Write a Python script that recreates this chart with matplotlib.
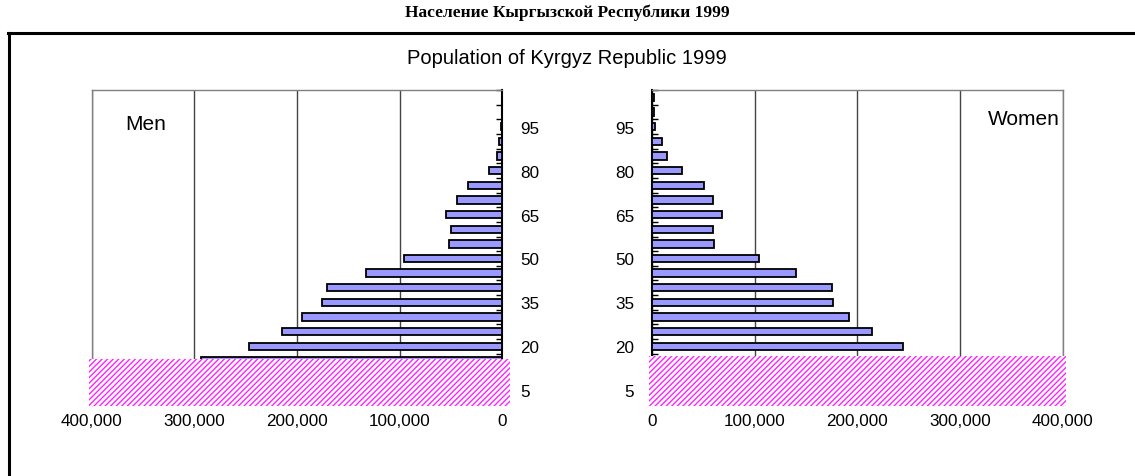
import matplotlib
matplotlib.use("Agg")
import matplotlib.pyplot as plt
from matplotlib.patches import Rectangle
from matplotlib.lines import Line2D
import numpy as np

# ---------------- data ----------------
age_groups = [0, 5, 10, 15, 20, 25, 30, 35, 40, 45, 50, 55, 60, 65, 70, 75, 80, 85, 90, 95, 100, 105]
men = [265000, 300000, 305000, 294000, 247000, 215000, 195000, 176000, 171000, 133000,
       96000, 52000, 50000, 55000, 44000, 33000, 13000, 5200, 2600, 800, 400, 200]
women = [255000, 290000, 300000, 290000, 244600, 214000, 192000, 176500, 175000, 140000,
         104700, 60500, 59000, 68600, 59000, 51000, 29000, 14600, 10000, 3000, 1500, 1500]
age_labels = [5, 20, 35, 50, 65, 80, 95]
x_ticks = [0, 100000, 200000, 300000, 400000]
title_ru = "Население Кыргызской Республики 1999"
title_en = "Population of Kyrgyz Republic 1999"

plt.rcParams['font.family'] = ['Liberation Sans', 'DejaVu Sans']
plt.rcParams['hatch.linewidth'] = 1.0

W, H = 1135, 477
fig = plt.figure(figsize=(W / 100, H / 100), dpi=100)

def fx(px):
    return px / W

def fy(py):
    return 1 - py / H

top_px, bot_px = 91, 406
axL = fig.add_axes([fx(92), fy(bot_px), fx(502) - fx(92), (bot_px - top_px) / H])
axR = fig.add_axes([fx(652), fy(bot_px), fx(1062.5) - fx(652), (bot_px - top_px) / H])

ypos = np.arange(len(age_groups))
bar_color = '#9999ff'

for ax, vals in ((axL, men), (axR, women)):
    ax.barh(ypos, vals, height=0.5, color=bar_color, edgecolor='black', linewidth=1.3, zorder=3)
    ax.set_xticks(x_ticks)
    ax.set_xticklabels([f"{v:,}" for v in x_ticks], fontsize=12.3)
    ax.tick_params(axis='x', length=0, pad=6)
    ax.grid(axis='x', color='#444444', linewidth=1, zorder=1)
    ax.set_axisbelow(True)
    lab_pos = [age_groups.index(a) for a in age_labels]
    ax.set_yticks(lab_pos)
    ax.set_yticklabels([str(a) for a in age_labels], fontsize=12.3)
    ax.set_yticks(np.arange(0.5, len(age_groups), 1.0), minor=True)
    ax.tick_params(axis='y', which='major', length=0, pad=13)
    ax.tick_params(axis='y', which='minor', length=4, width=1, direction='in', color='black')
    ax.set_ylim(0, len(age_groups) - 0.5)
    ax.set_xlim(0, 400000)
    ax.spines['bottom'].set_visible(False)
    ax.spines['top'].set_color('#808080')
    for s in ax.spines.values():
        s.set_linewidth(1.0)

axL.invert_xaxis()
axL.yaxis.tick_right()
axL.spines['left'].set_color('#808080')
axL.spines['right'].set_color('black')
axL.spines['right'].set_linewidth(1.5)

axR.spines['right'].set_color('#808080')
axR.spines['left'].set_color('black')
axR.spines['left'].set_linewidth(1.5)

axL.text(0.13, 0.895, "Men", transform=axL.transAxes, fontsize=15, ha='center', va='center')
axR.text(0.905, 0.91, "Women", transform=axR.transAxes, fontsize=15, ha='center', va='center')

# hatched overlays
for x0, x1, y0, y1 in ((89, 510, 359.5, 407), (649, 1066, 356.5, 407)):
    r = Rectangle((fx(x0), fy(y1)), fx(x1) - fx(x0), (y1 - y0) / H, transform=fig.transFigure,
                  facecolor='white', edgecolor='#ff22ff', hatch='//////', linewidth=0, zorder=10)
    fig.add_artist(r)

# outer frame
fig.add_artist(Line2D([fx(8), 1], [fy(34), fy(34)], color='black', linewidth=2.2, transform=fig.transFigure))
fig.add_artist(Line2D([fx(9), fx(9)], [fy(34), 0], color='black', linewidth=2.2, transform=fig.transFigure))

fig.text(fx(567), fy(13), title_ru, fontsize=12.5, fontweight='bold', family='Liberation Serif',
         ha='center', va='center')
fig.text(fx(567), fy(58), title_en, fontsize=14.5, ha='center', va='center')

fig.savefig("out.png", dpi=100)
